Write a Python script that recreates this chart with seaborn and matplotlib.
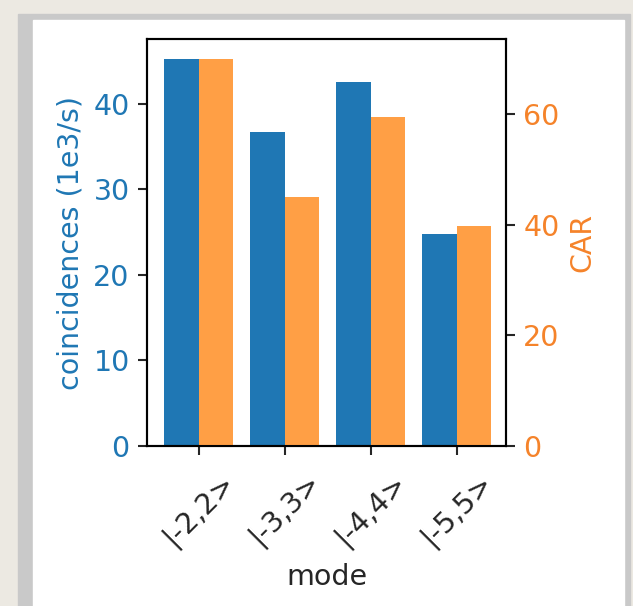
import matplotlib
matplotlib.use('Agg')
import matplotlib.pyplot as plt
import numpy as np
import pandas as pd
import seaborn as sns
from matplotlib.patches import Rectangle

# data
modes = ['|-2,2>', '|-3,3>', '|-4,4>', '|-5,5>']
coincidences = [45.3, 36.7, 42.6, 24.8]
car = [70.0, 45.0, 59.5, 39.8]

blue = '#1f77b4'
orange = '#ff9f45'
orange_txt = '#f5832a'

sns.set_style('ticks')
plt.rcParams['font.family'] = ['DejaVu Sans']
plt.rcParams['font.size'] = 20.5

pos = np.arange(len(modes))
df = pd.DataFrame({'mode': modes, 'pos': pos,
                   'coincidences': coincidences, 'CAR': car})

fig = plt.figure(figsize=(6.33, 6.06), dpi=100)
fig.patch.set_facecolor('#ece9e2')
# screenshot-like frame
fig.patches.append(Rectangle((18 / 633, 0), 612 / 633, 592 / 606,
                             transform=fig.transFigure, color='#c9c9c9', zorder=-2))
fig.patches.append(Rectangle((33 / 633, 0), 591 / 633, 586 / 606,
                             transform=fig.transFigure, color='white', zorder=-1))

ax1 = fig.add_axes([147 / 633, 160 / 606, 359 / 633, 407 / 606])
ax2 = ax1.twinx()

sns.barplot(data=df.assign(x=df['pos'] - 0.2), x='x', y='coincidences', ax=ax1,
            native_scale=True, width=0.4, color=blue, saturation=1, linewidth=0)
sns.barplot(data=df.assign(x=df['pos'] + 0.2), x='x', y='CAR', ax=ax2,
            native_scale=True, width=0.4, color=orange, saturation=1, linewidth=0)

ax1.set_xlim(-0.6, 3.57)
ax1.set_ylim(0, 47.6)
ax2.set_ylim(0, 73.6)
ax1.set_xticks(pos)
ax1.set_xticklabels(modes, rotation=45)
ax1.set_yticks([0, 10, 20, 30, 40])
ax2.set_yticks([0, 20, 40, 60])

ax1.set_xlabel('mode', labelpad=9)
ax1.set_ylabel('coincidences (1e3/s)', color=blue, labelpad=6)
ax2.set_ylabel('CAR', color=orange_txt, labelpad=6)
ax1.tick_params(axis='y', labelcolor=blue)
ax2.tick_params(axis='y', labelcolor=orange_txt)
ax1.tick_params(axis='x', pad=9)
for ax in (ax1, ax2):
    ax.tick_params(length=6.5, width=1.5)
    ax.tick_params(axis='y', pad=6)
    for s in ax.spines.values():
        s.set_visible(True)
        s.set_color('black')
        s.set_linewidth(1.5)
    ax.set_facecolor('none')
ax1.set_facecolor('white')

fig.savefig('out.png', dpi=100, facecolor=fig.get_facecolor())
